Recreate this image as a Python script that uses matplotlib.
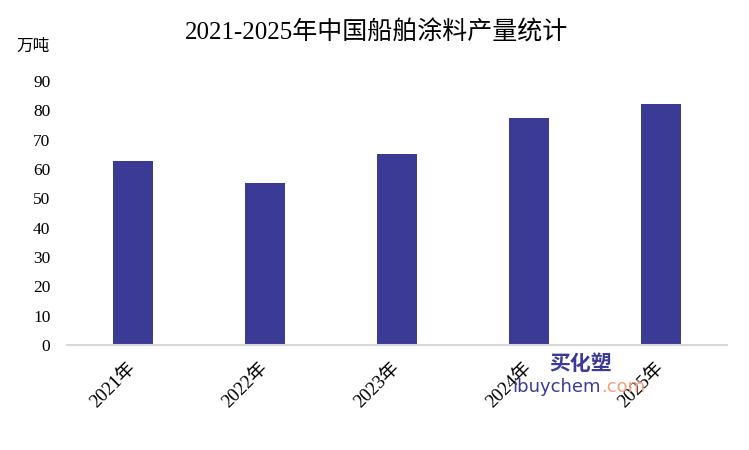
import matplotlib
matplotlib.use("Agg")
import matplotlib.pyplot as plt

plt.rcParams['font.family'] = ['Liberation Serif', 'Noto Sans CJK SC', 'DejaVu Sans']

categories = ["2021年", "2022年", "2023年", "2024年", "2025年"]
values = [62.7, 55.2, 65.1, 77.4, 82.2]
yticks = [0, 10, 20, 30, 40, 50, 60, 70, 80, 90]
title = "2021-2025年中国船舶涂料产量统计"
unit = "万吨"

fig = plt.figure(figsize=(7.49, 4.5), dpi=100)
ax = fig.add_axes([67/749, 1-345/450, (727-67)/749, (345-81)/450])

x = list(range(len(categories)))
ax.bar(x, values, width=0.31, color="#3b3a94", zorder=2)
ax.set_xlim(-0.5, 4.5)
ax.set_ylim(0, 90)
ax.set_yticks(yticks)
ax.set_yticklabels([str(t) for t in yticks], fontsize=12.5)
ax.set_xticks(x)
ax.set_xticklabels(categories, fontsize=13.5, rotation=45, ha='right',
                   rotation_mode='anchor', va='center')
ax.tick_params(axis='y', length=0, pad=12, colors='#000000')
ax.tick_params(axis='x', length=0, pad=15)
for s in ['top', 'right', 'left']:
    ax.spines[s].set_visible(False)
ax.spines['bottom'].set_color('#d9d9d9')
ax.spines['bottom'].set_linewidth(1.5)

fig.text(376/749, 1-33/450, title, ha='center', va='center', fontsize=18)
fig.text(33/749, 1-47/450, unit, ha='center', va='center', fontsize=12)

# watermark
fig.text(581/749, 1-364/450, "买化塑", ha='center', va='center', fontsize=15,
         fontweight='bold', style='italic', color='#3b3a94',
         family=['Noto Sans CJK SC'])
fig.text(601/749, 1-387/450, "ibuychem", ha='right', va='center', fontsize=13,
         color='#3b3a94', family=['DejaVu Sans'])
fig.text(601/749, 1-387/450, ".com", ha='left', va='center', fontsize=13,
         color='#f4a080', family=['DejaVu Sans'])

fig.savefig("out.png", dpi=100)
